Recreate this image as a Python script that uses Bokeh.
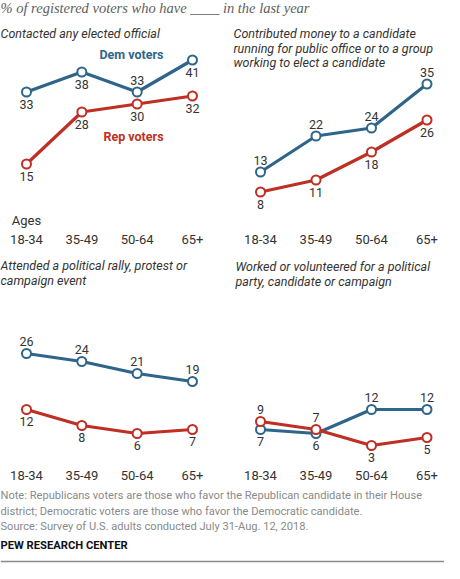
from bokeh.plotting import figure
from bokeh.models import Range1d, ColumnDataSource, Span
from bokeh.core.properties import value
from bokeh.embed import file_html
from bokeh.resources import INLINE

# ---------------- data ----------------
ages = ["18-34", "35-49", "50-64", "65+"]

contacted_dem = [33, 38, 33, 41]
contacted_rep = [15, 28, 30, 32]
contributed_dem = [13, 22, 24, 35]
contributed_rep = [8, 11, 18, 26]
attended_dem = [26, 24, 21, 19]
attended_rep = [12, 8, 6, 7]
worked_dem = [7, 6, 12, 12]
worked_rep = [9, 7, 3, 5]

title_text = "% of registered voters who have ____ in the last year"
panel_titles = [
    ["Contacted any elected official"],
    ["Contributed money to a  candidate",
     "running for public office or to a group",
     "working to elect a  candidate"],
    ["Attended a political rally, protest or", "campaign event"],
    ["Worked or volunteered for a political", "party, candidate or campaign"],
]
note_lines = [
    "Note: Republicans voters are those who favor the Republican candidate in their House",
    "district; Democratic voters are those who favor the Democratic candidate.",
    "Source: Survey of U.S. adults conducted July 31-Aug. 12, 2018.",
]
credit = "PEW RESEARCH CENTER"

# ---------------- styles ----------------
DEM = "#30658a"
REP = "#bf2f24"
DARK = "#333333"
FONT = "Roboto"
W, H = 444, 563

p = figure(width=W, height=H, output_backend="svg", toolbar_location=None,
           x_range=Range1d(0, W), y_range=Range1d(H, 0),
           x_axis_location=None, y_axis_location=None, min_border=0)
p.grid.visible = False
p.outline_line_color = None
p.background_fill_color = "white"
p.border_fill_color = "white"

# panel scales (positions of the panels within the canvas)
p.extra_x_ranges = {
    "xl": Range1d(-26 / 55.33, (W - 26) / 55.33),
    "xr": Range1d(-260 / 55.5, (W - 260) / 55.5),
}
p.extra_y_ranges = {
    "yt": Range1d((223.5 - H) / 4.0, 223.5 / 4.0),
    "yb": Range1d((457 - H) / 4.0, 457 / 4.0),
}

idx = list(range(len(ages)))


def txt(x, y, s, size="11px", color=DARK, style="normal", align="left",
        xr="default", font=FONT):
    p.text(x=x, y=y, text=s, x_range_name=xr,
           text_font=value(font), text_font_size=size, text_color=color,
           text_font_style=style, text_align=align, text_baseline="middle")


def series(xr, yr, vals, color, pos):
    src = ColumnDataSource(dict(x=idx, y=vals, t=[str(v) for v in vals],
                                off=[-12 if s == "a" else 12 for s in pos]))
    p.line("x", "y", source=src, x_range_name=xr, y_range_name=yr,
           line_color=color, line_width=3.2)
    p.scatter("x", "y", source=src, x_range_name=xr, y_range_name=yr,
              size=9, fill_color="white", line_color=color, line_width=2)
    p.text("x", "y", text="t", source=src, x_range_name=xr, y_range_name=yr,
           y_offset="off", text_font=value(FONT), text_font_size="12.5px",
           text_color=DARK, text_align="center", text_baseline="middle")


# header
txt([0], [7], [title_text], size="14.5px", color="#5e5e5e", style="italic",
    font="Liberation Serif")

# panel titles
for lines, (x0, y0) in zip(panel_titles, [(0, 33), (233, 33), (0, 265), (235, 266)]):
    txt([x0] * len(lines), [y0 + 14.5 * i for i in range(len(lines))], lines,
        size="12.5px", color=DARK, style="italic")

# series
series("xl", "yt", contacted_dem, DEM, ["b", "b", "a", "b"])
series("xl", "yt", contacted_rep, REP, ["b", "b", "b", "b"])
series("xr", "yt", contributed_dem, DEM, ["a", "a", "a", "a"])
series("xr", "yt", contributed_rep, REP, ["b", "b", "b", "b"])
series("xl", "yb", attended_dem, DEM, ["a", "a", "a", "a"])
series("xl", "yb", attended_rep, REP, ["b", "b", "b", "b"])
series("xr", "yb", worked_dem, DEM, ["b", "b", "a", "a"])
series("xr", "yb", worked_rep, REP, ["a", "a", "b", "b"])

# series names
txt([131], [54], ["Dem voters"], size="12.5px", color=DEM, style="bold", align="center")
txt([133], [136], ["Rep voters"], size="12.5px", color=REP, style="bold", align="center")

# category labels
txt([0], [220], ["Ages"], size="13px", align="center", xr="xl")
for xr, yy in [("xl", 239), ("xr", 239), ("xl", 475), ("xr", 475)]:
    txt(idx, [yy] * len(ages), ages, size="13px", align="center", xr=xr)

# footer
txt([0] * 3, [495, 511, 526], note_lines, size="11.1px", color="#8a8a8a")
txt([0], [545], [credit], size="11.2px", color="#111111", style="bold")
p.add_layout(Span(location=561, dimension="width", line_color="#8c8c8c", line_width=1.5))

open("out.html", "w").write(file_html(p, INLINE))
